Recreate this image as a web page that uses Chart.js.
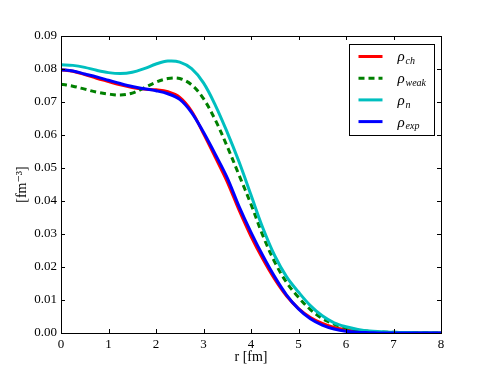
<!DOCTYPE html>
<html>
<head>
<meta charset="utf-8">
<script src="https://cdn.jsdelivr.net/npm/chart.js@4"></script>
<style>
  html, body { margin: 0; padding: 0; background: #fff; }
  #wrap { width: 491px; height: 370px; }
</style>
</head>
<body>
<div id="wrap"><canvas id="densityChart" width="491" height="370"></canvas></div>
<script>
// radius grid (fm)
const radius = [0, 0.25, 0.5, 0.75, 1, 1.25, 1.5, 1.75, 2, 2.25, 2.5, 2.75, 3, 3.25, 3.5, 3.75,
  4, 4.25, 4.5, 4.75, 5, 5.25, 5.5, 5.75, 6, 6.25, 6.5, 6.75, 7, 7.5, 8];

// densities (fm^-3)
const rhoCh = [0.0798, 0.0793, 0.0783, 0.0772, 0.0762, 0.0752, 0.0744, 0.0739, 0.0737, 0.0731, 0.0714, 0.0672,
  0.0604, 0.0532, 0.0458, 0.0372, 0.0293, 0.0224, 0.0163, 0.0112, 0.0074, 0.0047, 0.0029, 0.0017,
  0.0010, 0.0005, 0.0003, 0.0001, 0.0000, 0.0000, 0.0000];
const rhoWeak = [0.0754, 0.0748, 0.0739, 0.0730, 0.0724, 0.0721, 0.0727, 0.0743, 0.0760, 0.0771, 0.0771, 0.0752,
  0.0710, 0.0645, 0.0565, 0.0478, 0.0390, 0.0295, 0.0215, 0.0153, 0.0108, 0.0071, 0.0044, 0.0027,
  0.0016, 0.0009, 0.0005, 0.0003, 0.0002, 0.0001, 0.0000];
const rhoN = [0.0813, 0.0811, 0.0805, 0.0796, 0.0789, 0.0786, 0.0790, 0.0801, 0.0815, 0.0824, 0.0821, 0.0801,
  0.0758, 0.0690, 0.0608, 0.0518, 0.0418, 0.0318, 0.0234, 0.0170, 0.0124, 0.0083, 0.0052, 0.0031,
  0.0019, 0.0011, 0.0006, 0.0004, 0.0002, 0.0001, 0.0000];
const rhoExp = [0.0798, 0.0794, 0.0785, 0.0776, 0.0766, 0.0756, 0.0747, 0.0740, 0.0734, 0.0725, 0.0708, 0.0668,
  0.0608, 0.0541, 0.0470, 0.0383, 0.0305, 0.0234, 0.0170, 0.0115, 0.0073, 0.0043, 0.0024, 0.0012,
  0.0005, 0.0002, 0.0001, 0.0000, 0.0000, 0.0000, 0.0000];

// legend labels: base symbol + subscript
const legendSubs = ['ch', 'weak', 'n', 'exp'];

const xTicks = [0, 1, 2, 3, 4, 5, 6, 7, 8];
const yTicks = [0, 0.01, 0.02, 0.03, 0.04, 0.05, 0.06, 0.07, 0.08, 0.09];

const SERIF = '"Liberation Serif", "DejaVu Serif", serif';

function toPoints(ys) {
  return ys.map((y, i) => ({ x: radius[i], y: y }));
}

// frame + inward ticks on all four sides, matplotlib style
const frameTicks = {
  id: 'frameTicks',
  afterDatasetsDraw(chart) {
    const { ctx, chartArea: a, scales } = chart;
    ctx.save();
    ctx.strokeStyle = '#000';
    ctx.lineWidth = 1;
    ctx.beginPath();
    xTicks.forEach(v => {
      const px = Math.round(scales.x.getPixelForValue(v)) + 0.5;
      ctx.moveTo(px, a.bottom); ctx.lineTo(px, a.bottom - 4);
      ctx.moveTo(px, a.top); ctx.lineTo(px, a.top + 4);
    });
    yTicks.forEach(v => {
      const py = Math.round(scales.y.getPixelForValue(v)) + 0.5;
      ctx.moveTo(a.left, py); ctx.lineTo(a.left + 4, py);
      ctx.moveTo(a.right, py); ctx.lineTo(a.right - 4, py);
    });
    ctx.stroke();
    ctx.strokeRect(Math.round(a.left) + 0.5, Math.round(a.top) + 0.5,
      Math.round(a.right - a.left), Math.round(a.bottom - a.top));
    ctx.restore();
  }
};

// legend with subscripted rho labels
const rhoLegend = {
  id: 'rhoLegend',
  afterDraw(chart) {
    const { ctx, chartArea: a } = chart;
    const w = 85, h = 91;
    const x0 = Math.round(a.right - 7 - w) + 0.5, y0 = Math.round(a.top + 8) + 0.5;
    ctx.save();
    ctx.fillStyle = '#fff';
    ctx.fillRect(x0, y0, w, h);
    ctx.strokeStyle = '#000';
    ctx.lineWidth = 1;
    ctx.strokeRect(x0, y0, w, h);
    chart.data.datasets.forEach((ds, i) => {
      const ry = y0 + 12 + i * 21.7;
      ctx.strokeStyle = ds.borderColor;
      ctx.lineWidth = ds.borderWidth;
      ctx.setLineDash(ds.borderDash || []);
      ctx.beginPath();
      ctx.moveTo(x0 + 9, ry);
      ctx.lineTo(x0 + 33, ry);
      ctx.stroke();
      ctx.setLineDash([]);
      ctx.fillStyle = '#000';
      ctx.textBaseline = 'middle';
      ctx.font = 'italic 15px ' + SERIF;
      ctx.fillText('\u03c1', x0 + 48, ry + 1);
      ctx.font = 'italic 10px ' + SERIF;
      ctx.fillText(legendSubs[i], x0 + 56, ry + 5);
    });
    ctx.restore();
  }
};

const lineStyle = (data, color, order) => ({
  data: toPoints(data),
  borderColor: color,
  borderWidth: 3,
  pointRadius: 0,
  fill: false,
  tension: 0.35,
  order: order
});

new Chart(document.getElementById('densityChart'), {
  type: 'line',
  data: {
    datasets: [
      lineStyle(rhoCh, '#ff0000', 4),
      Object.assign(lineStyle(rhoWeak, '#008000', 3), { borderDash: [6, 4] }),
      lineStyle(rhoN, '#00bfbf', 2),
      lineStyle(rhoExp, '#0000ff', 1)
    ]
  },
  options: {
    responsive: false,
    animation: false,
    devicePixelRatio: 1,
    layout: { padding: { left: 0, right: 50, top: 36, bottom: 0 } },
    plugins: { legend: { display: false }, tooltip: { enabled: false } },
    scales: {
      x: {
        type: 'linear',
        min: 0, max: 8,
        afterFit: s => { s.height = 37; },
        afterBuildTicks: s => { s.ticks = xTicks.map(v => ({ value: v })); },
        grid: { display: false, drawTicks: false },
        border: { display: false },
        ticks: { color: '#000', padding: 4, font: { family: SERIF, size: 13 }, maxRotation: 0 },
        title: { display: true, text: 'r [fm]', color: '#000', font: { family: SERIF, size: 14 }, padding: { top: 0, bottom: 4 } }
      },
      y: {
        type: 'linear',
        min: 0, max: 0.09,
        afterFit: s => { s.width = 61; },
        afterBuildTicks: s => { s.ticks = yTicks.map(v => ({ value: v })); },
        grid: { display: false, drawTicks: false },
        border: { display: false },
        ticks: { color: '#000', padding: 4, font: { family: SERIF, size: 13 }, callback: v => v.toFixed(2) },
        title: { display: true, text: '[fm\u207b\u00b3]', color: '#000', font: { family: SERIF, size: 14 }, padding: { top: 14, bottom: 0 } }
      }
    }
  },
  plugins: [frameTicks, rhoLegend]
});
</script>
</body>
</html>
